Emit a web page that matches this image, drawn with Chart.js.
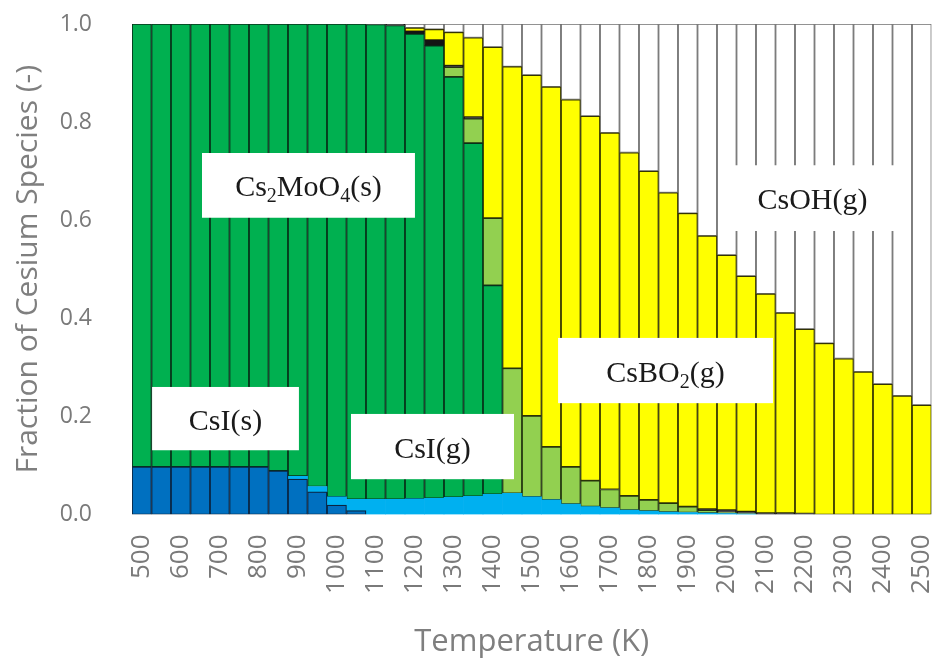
<!DOCTYPE html>
<html>
<head>
<meta charset="utf-8">
<script src="https://cdn.jsdelivr.net/npm/chart.js@4.4.1/dist/chart.umd.min.js"></script>
<style>
  html, body { margin: 0; padding: 0; background: #fff; }
</style>
</head>
<body>
<canvas id="speciesChart" width="935" height="671"></canvas>
<script>
// temperatures (K), one bar each
const temps = [500, 550, 600, 650, 700, 750, 800, 850, 900, 950, 1000, 1050, 1100, 1150, 1200, 1250,
  1300, 1350, 1400, 1450, 1500, 1550, 1600, 1650, 1700, 1750, 1800, 1850, 1900, 1950, 2000, 2050,
  2100, 2150, 2200, 2250, 2300, 2350, 2400, 2450, 2500];

// species fractions (bottom of stack first)
const csiSolid = [0.097, 0.097, 0.097, 0.097, 0.097, 0.097, 0.097, 0.089, 0.072, 0.046, 0.019, 0.008,
  0, 0, 0, 0, 0, 0, 0, 0, 0, 0, 0, 0, 0, 0, 0, 0, 0, 0, 0, 0, 0, 0, 0, 0, 0, 0, 0, 0, 0];
const csiGas = [0, 0, 0, 0, 0, 0, 0, 0, 0.006, 0.011, 0.017, 0.023, 0.031, 0.031, 0.032, 0.033,
  0.035, 0.037, 0.041, 0.043, 0.036, 0.030, 0.021, 0.016, 0.013, 0.009, 0.007, 0.005, 0.004, 0.003,
  0.002, 0.001, 0, 0, 0, 0, 0, 0, 0, 0, 0];
const cs2moo4Solid = [0.903, 0.903, 0.903, 0.903, 0.903, 0.903, 0.903, 0.911, 0.922, 0.943, 0.964,
  0.969, 0.968, 0.966, 0.948, 0.923, 0.857, 0.720, 0.426, 0, 0, 0, 0, 0, 0, 0, 0, 0, 0, 0, 0, 0, 0,
  0, 0, 0, 0, 0, 0, 0, 0];
const cs2moo4Liquid = [0, 0, 0, 0, 0, 0, 0, 0, 0, 0, 0, 0, 0, 0, 0, 0, 0.020, 0.050, 0.137, 0.255,
  0.165, 0.108, 0.076, 0.053, 0.038, 0.029, 0.023, 0.018, 0.012, 0.006, 0.003, 0.001, 0, 0, 0, 0, 0,
  0, 0, 0, 0];
const otherSpecies = [0, 0, 0, 0, 0, 0, 0, 0, 0, 0, 0, 0, 0.001, 0.003, 0.005, 0.011, 0.003, 0.003,
  0, 0, 0, 0, 0, 0, 0, 0, 0, 0, 0, 0.002, 0.004, 0.004, 0.003, 0.003, 0.002, 0, 0, 0, 0, 0, 0];
const csbo2Gas = [0, 0, 0, 0, 0, 0, 0, 0, 0, 0, 0, 0, 0, 0, 0.007, 0.022, 0.068, 0.162, 0.349, 0.615,
  0.695, 0.734, 0.749, 0.743, 0.727, 0.700, 0.670, 0.633, 0.598, 0.557, 0.520, 0.480, 0.447, 0.408,
  0.376, 0.349, 0.318, 0.291, 0.266, 0.242, 0.223];
const csohGas = [0, 0, 0, 0, 0, 0, 0, 0, 0, 0, 0, 0, 0, 0, 0.008, 0.011, 0.017, 0.028, 0.047, 0.087,
  0.104, 0.128, 0.154, 0.188, 0.222, 0.262, 0.300, 0.344, 0.386, 0.432, 0.471, 0.514, 0.550, 0.589,
  0.622, 0.651, 0.682, 0.709, 0.734, 0.758, 0.777];

const yTicks = [0, 0.2, 0.4, 0.6, 0.8, 1.0];

// text boxes placed in axis units: x = bar index, y = fraction
const boxLabels = [
  { parts: [['Cs'], ['2', 1], ['MoO'], ['4', 1], ['(s)']], x: [3.09, 14.01], y: [0.737, 0.605] },
  { parts: [['CsI(s)']], x: [0.53, 8.06], y: [0.260, 0.131] },
  { parts: [['CsI(g)']], x: [10.73, 19.09], y: [0.205, 0.072] },
  { parts: [['CsBO'], ['2', 1], ['(g)']], x: [21.35, 32.37], y: [0.360, 0.227] },
  { parts: [['CsOH(g)']], x: [29.65, 39.14], y: [0.712, 0.578] }
];

const MAIN_FONT = '30px "Liberation Serif"';
const SUB_FONT = '20px "Liberation Serif"';

const labelBoxes = {
  id: 'labelBoxes',
  afterDatasetsDraw(chart) {
    const { ctx, scales: { x, y } } = chart;
    ctx.save();
    boxLabels.forEach(b => {
      const l = x.getPixelForValue(b.x[0]), r = x.getPixelForValue(b.x[1]);
      const t = y.getPixelForValue(b.y[0]), btm = y.getPixelForValue(b.y[1]);
      ctx.fillStyle = '#ffffff';
      ctx.fillRect(l, t, r - l, btm - t);
      let w = 0;
      b.parts.forEach(p => { ctx.font = p[1] ? SUB_FONT : MAIN_FONT; w += ctx.measureText(p[0]).width; });
      let cx = (l + r) / 2 - w / 2;
      const base = (t + btm) / 2 + 11;
      ctx.fillStyle = '#1a1a1a';
      ctx.textBaseline = 'alphabetic';
      ctx.textAlign = 'left';
      b.parts.forEach(p => {
        ctx.font = p[1] ? SUB_FONT : MAIN_FONT;
        ctx.fillText(p[0], cx, base + (p[1] ? 6 : 0));
        cx += ctx.measureText(p[0]).width;
      });
    });
    ctx.restore();
  }
};

function series(label, values, bg, border, bw) {
  return {
    label,
    data: values.map(v => (v === 0 ? null : v)),
    backgroundColor: bg,
    borderColor: border,
    borderWidth: bw,
    borderSkipped: false,
    barPercentage: 1,
    categoryPercentage: 1
  };
}

const ctx = document.getElementById('speciesChart').getContext('2d');
new Chart(ctx, {
  type: 'bar',
  data: {
    labels: temps,
    datasets: [
      series('CsI(s)', csiSolid, '#0070C0', '#0a2440', 1.2),
      series('CsI(g)', csiGas, '#00B0F0', '#00B0F0', 0),
      series('Cs2MoO4(s)', cs2moo4Solid, '#00B050', '#07301a', 1.2),
      series('Cs2MoO4(l)', cs2moo4Liquid, '#92D050', '#22330f', 1.2),
      series('other', otherSpecies, '#141414', '#141414', 1),
      series('CsBO2(g)', csbo2Gas, '#FFFF00', '#333300', 1.2),
      series('CsOH(g)', csohGas, '#FFFFFF', '#6e6e6e', 1.2)
    ]
  },
  options: {
    responsive: false,
    animation: false,
    layout: { padding: { top: 24, right: 3.5, left: 0, bottom: 0 } },
    plugins: { legend: { display: false }, tooltip: { enabled: false } },
    scales: {
      x: {
        stacked: true,
        grid: { display: false, drawTicks: false },
        border: { display: false },
        afterFit(scale) {
          scale.height = 156.5;
          scale.paddingLeft = 0;
          scale.paddingRight = 0;
        },
        ticks: {
          autoSkip: false,
          maxRotation: 90,
          minRotation: 90,
          padding: 20,
          color: '#7a7a7a',
          font: { family: '"Open Sans"', size: 26 },
          callback(value, i) { return temps[i] % 100 === 0 ? String(temps[i]) : ''; }
        },
        title: {
          display: true,
          text: 'Temperature (K)',
          color: '#7f7f7f',
          font: { family: '"Open Sans"', size: 31 },
          padding: { top: 0, bottom: 10 }
        }
      },
      y: {
        stacked: true,
        min: 0,
        max: 1,
        grid: { display: false, drawTicks: false },
        border: { display: false },
        afterFit(scale) {
          scale.width = 132;
          scale.paddingTop = 0;
          scale.paddingBottom = 0;
        },
        afterBuildTicks(scale) { scale.ticks = yTicks.map(v => ({ value: v })); },
        ticks: {
          padding: 40,
          color: '#7a7a7a',
          font: { family: '"Open Sans"', size: 23 },
          callback(value) { return value.toFixed(1); }
        },
        title: {
          display: true,
          text: 'Fraction of Cesium Species (-)',
          color: '#7f7f7f',
          font: { family: '"Open Sans"', size: 30 },
          padding: { top: 10, bottom: 0 }
        }
      }
    }
  },
  plugins: [labelBoxes]
});
</script>
</body>
</html>
